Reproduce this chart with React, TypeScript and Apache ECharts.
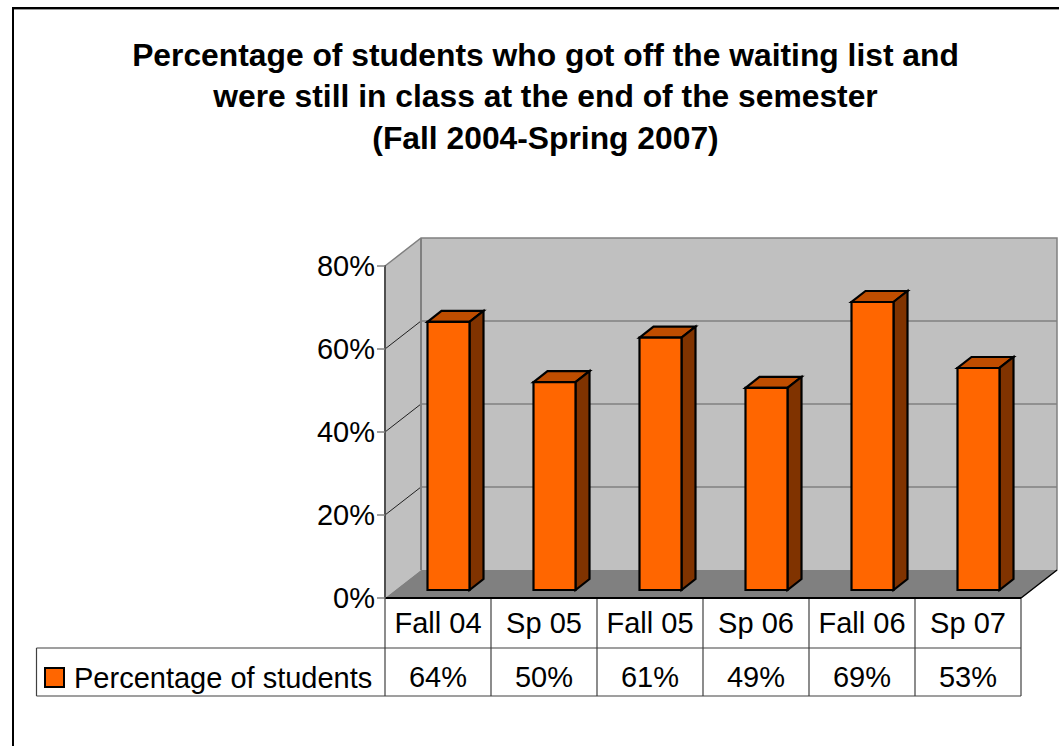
import React, { useEffect, useRef } from "react";
import * as echarts from "echarts";

const titleLines = [
  "Percentage of students who got off the waiting list and",
  "were still in class at the end of the semester",
  "(Fall 2004-Spring 2007)",
];
const categories = ["Fall 04", "Sp 05", "Fall 05", "Sp 06", "Fall 06", "Sp 07"];
const barValues = [64.6, 50.1, 60.8, 48.7, 69.4, 53.5];
const tableLabels = ["64%", "50%", "61%", "49%", "69%", "53%"];
const yTicks = [0, 20, 40, 60, 80];
const seriesName = "Percentage of students";

const FONT = "'Liberation Sans', Arial, sans-serif";
const DX = 36;
const DY = 28;

function renderScene(params: any, api: any) {
  const cs = params.coordSys;
  const L = cs.x, R = cs.x + cs.width, B = cs.y + cs.height, T = cs.y;
  const children: any[] = [];
  const wall = "#C0C0C0";
  const edge = "#808080";
  children.push({ type: "polygon", shape: { points: [[L, B], [L + DX, B - DY], [L + DX, T - DY], [L, T]] }, style: { fill: wall } });
  children.push({ type: "rect", shape: { x: L + DX, y: T - DY, width: R - L, height: B - T }, style: { fill: wall } });
  children.push({ type: "polygon", shape: { points: [[L, B], [R, B], [R + DX, B - DY], [L + DX, B - DY]] }, style: { fill: edge } });
  yTicks.forEach((t) => {
    const y = api.coord([0, t])[1];
    if (t > 0 && t < 80) {
      children.push({ type: "line", shape: { x1: L, y1: y, x2: L + DX, y2: y - DY }, style: { stroke: "#202020", lineWidth: 1 } });
      children.push({ type: "line", shape: { x1: L + DX, y1: y - DY, x2: R + DX, y2: y - DY }, style: { stroke: "#606060", lineWidth: 1.2 } });
    }
  });
  children.push({ type: "polyline", shape: { points: [[L, T], [L + DX, T - DY], [R + DX, T - DY], [R + DX, B - DY], [R, B]] }, style: { fill: "none", stroke: edge, lineWidth: 1.5 } });
  children.push({ type: "polyline", shape: { points: [[L + DX, T - DY], [L + DX, B - DY]] }, style: { fill: "none", stroke: edge, lineWidth: 2 } });
  children.push({ type: "line", shape: { x1: R + DX, y1: B - DY, x2: R, y2: B }, style: { stroke: "#000", lineWidth: 1.2 } });

  // data table grid
  const rowMid = B + 50;
  const rowBot = B + 98;
  const tableLeft = 36.5;
  const band = cs.width / categories.length;
  const tableStroke = { stroke: "#404040", lineWidth: 1.2 };
  children.push({ type: "line", shape: { x1: tableLeft, y1: rowMid, x2: R, y2: rowMid }, style: tableStroke });
  children.push({ type: "line", shape: { x1: tableLeft, y1: rowBot, x2: R, y2: rowBot }, style: tableStroke });
  children.push({ type: "line", shape: { x1: tableLeft, y1: rowMid, x2: tableLeft, y2: rowBot }, style: tableStroke });
  for (let i = 0; i <= categories.length; i++) {
    const x = L + band * i;
    children.push({ type: "line", shape: { x1: x, y1: B, x2: x, y2: rowBot }, style: tableStroke });
  }
  children.push({ type: "line", shape: { x1: L, y1: B, x2: R, y2: B }, style: { stroke: "#000", lineWidth: 2 } });
  return { type: "group", children };
}

function renderBar(_params: any, api: any) {
  const i = api.value(0);
  const v = api.value(1);
  const cx = api.coord([i, 0])[0] + 10.5;
  const base = api.coord([i, 0])[1] - 8;
  const top = api.coord([i, v])[1] - 8;
  const w = 42, dx = 14, dy = 11;
  const l = cx - w / 2, r = cx + w / 2;
  const stroke = { stroke: "#000", lineWidth: 2.2, lineJoin: "miter" };
  return {
    type: "group",
    children: [
      { type: "polygon", shape: { points: [[l, top], [r, top], [r + dx, top - dy], [l + dx, top - dy]] }, style: { fill: "#BF4D00", ...stroke } },
      { type: "polygon", shape: { points: [[r, top], [r + dx, top - dy], [r + dx, base - dy], [r, base]] }, style: { fill: "#803300", ...stroke } },
      { type: "rect", shape: { x: l, y: top, width: w, height: base - top }, style: { fill: "#FF6600", ...stroke } },
    ],
  };
}

export default function App() {
  const ref = useRef<HTMLDivElement>(null);
  useEffect(() => {
    const chart = echarts.init(ref.current!, undefined, { renderer: "svg" });
    chart.setOption({
      animation: false,
      backgroundColor: "#fff",
      textStyle: { fontFamily: FONT },
      title: {
        text: titleLines.join("\n"),
        left: 540.5,
        top: 29,
        textAlign: "center",
        textStyle: { fontFamily: FONT, fontSize: 31.8, fontWeight: "bold", color: "#000", lineHeight: 41.5 },
      },
      legend: {
        data: [{ name: seriesName, icon: "rect", itemStyle: { color: "#FF6600", borderColor: "#000", borderWidth: 2 } }],
        left: 44,
        top: 663,
        padding: 0,
        itemWidth: 19,
        itemHeight: 19,
        selectedMode: false,
        textStyle: { fontFamily: FONT, fontSize: 29, color: "#000", padding: [0, 0, 0, 5] },
      },
      grid: { left: 385, top: 266, width: 636, height: 332 },
      xAxis: [
        {
          type: "category",
          data: categories,
          position: "bottom",
          z: 3,
          axisLine: { show: false },
          axisTick: { show: false },
          axisLabel: { color: "#000", fontFamily: FONT, fontSize: 29, margin: 10, interval: 0 },
        },
        {
          type: "category",
          data: tableLabels,
          position: "bottom",
          offset: 54,
          z: 3,
          axisLine: { show: false },
          axisTick: { show: false },
          axisLabel: { color: "#000", fontFamily: FONT, fontSize: 29, margin: 10, interval: 0 },
        },
      ],
      yAxis: {
        type: "value",
        min: 0,
        max: 80,
        interval: 20,
        z: 3,
        splitLine: { show: false },
        axisLine: { show: true, lineStyle: { color: "#505050", width: 2 } },
        axisTick: { show: true, length: 8, lineStyle: { color: "#808080", width: 1.5 } },
        axisLabel: { color: "#000", fontFamily: FONT, fontSize: 29, margin: 10, padding: [3, 0, 0, 0], formatter: "{value}%" },
      },
      graphic: [
        { type: "rect", z: 10, silent: true, shape: { x: 12, y: 7, width: 1059, height: 2 }, style: { fill: "#000" } },
        { type: "rect", z: 10, silent: true, shape: { x: 13, y: 9, width: 1059, height: 1 }, style: { fill: "#999" } },
        { type: "rect", z: 10, silent: true, shape: { x: 12, y: 7, width: 2, height: 746 }, style: { fill: "#000" } },
      ],
      series: [
        { type: "custom", name: "scene", z: 1, silent: true, xAxisIndex: 0, data: [[0, 0]], renderItem: renderScene },
        { type: "custom", name: seriesName, z: 4, silent: true, xAxisIndex: 0, itemStyle: { color: "#FF6600" }, data: categories.map((_, i) => [i, barValues[i]]), renderItem: renderBar },
      ],
    });
    return () => chart.dispose();
  }, []);
  return <div ref={ref} style={{ position: "fixed", left: 0, top: 0, width: 1059, height: 746 }} />;
}
